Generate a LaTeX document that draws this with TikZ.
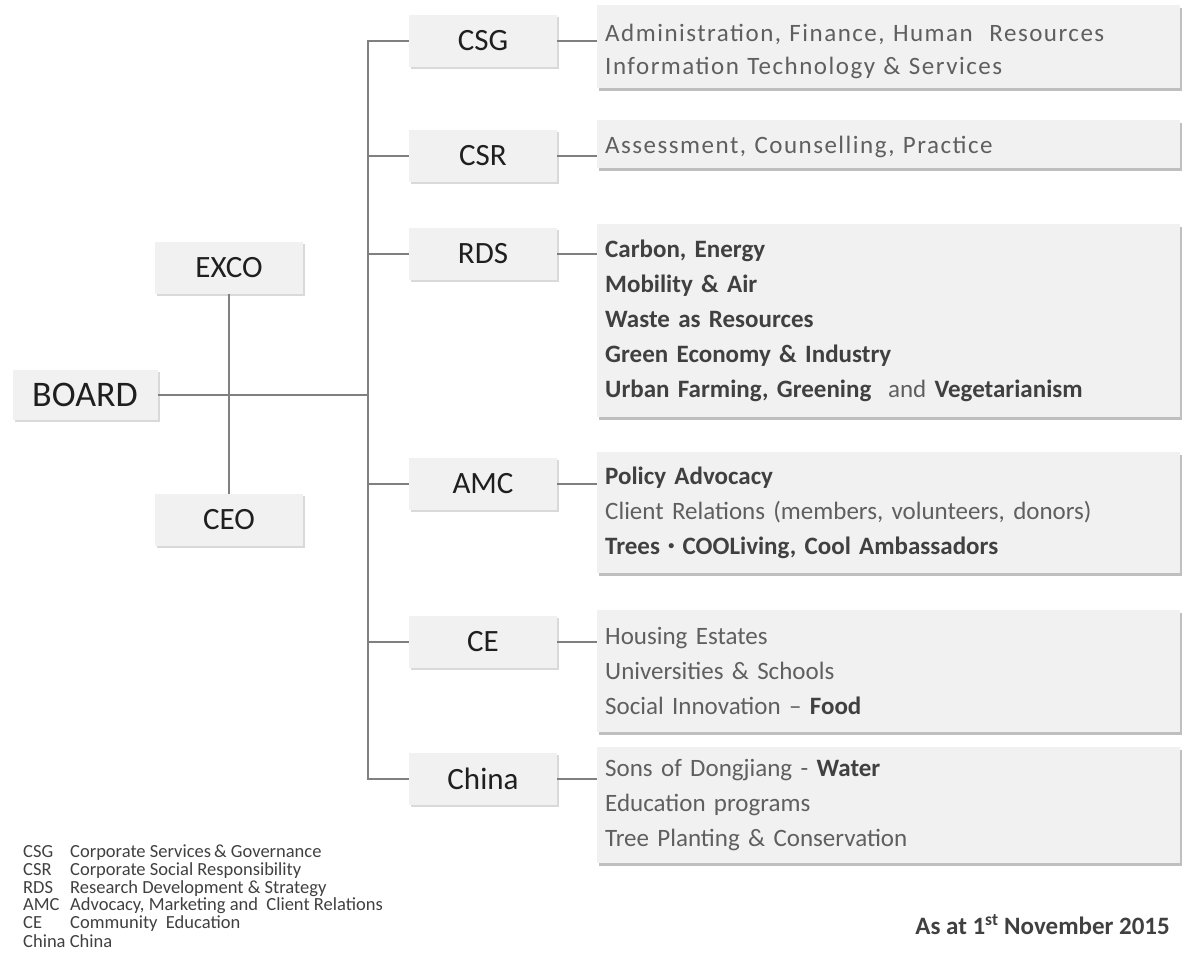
\documentclass[tikz,border=0pt]{standalone}
\usepackage{fontspec}
\setmainfont{Carlito}
\usetikzlibrary{shadows}
\definecolor{boxfill}{RGB}{241,241,241}
\definecolor{linegray}{RGB}{128,128,128}
\definecolor{desctext}{RGB}{95,95,95}
\definecolor{darktext}{RGB}{64,64,64}
\newcommand{\bld}[1]{{\bfseries\color{darktext}#1}}

\begin{document}
\begin{tikzpicture}[x=1pt, y=-1pt,
    unitbox/.style={fill=boxfill, minimum width=148pt, minimum height=52pt, inner sep=0pt,
      text=black!88, font=\fontsize{31}{36}\selectfont,
      drop shadow={shadow xshift=2pt, shadow yshift=-2pt, opacity=0.3}},
    descbox/.style={fill=boxfill, anchor=north west, minimum width=583pt, text width=567pt,
      inner xsep=8pt, inner ysep=0pt, align=left, text=desctext, font=\fontsize{25}{35}\selectfont,
      drop shadow={shadow xshift=1.5pt, shadow yshift=-3pt, opacity=0.5}},
    spaced/.style={font=\fontsize{25}{33}\selectfont\addfontfeature{LetterSpace=6}},
    conn/.style={draw=linegray, line width=2pt},
    legend/.style={anchor=west, inner sep=0pt, text=darktext, font=\fontsize{18.5}{19}\selectfont}]
    \useasboundingbox (0,0) rectangle (1185,957);

    % Board, EXCO, CEO
    \node[unitbox, minimum width=145pt, minimum height=50pt, font=\fontsize{36}{40}\selectfont] (BOARD) at (85,395) {BOARD};
    \node[unitbox] (EXCO) at (229,268) {EXCO};
    \node[unitbox] (CEO) at (229,520) {CEO};

    % Units
    \foreach \n/\y in {CSG/41, CSR/156, RDS/254, AMC/484, CE/642, China/779}
        \node[unitbox] (\n) at (483,\y) {\n};

    % What each unit covers
    \node[descbox, spaced, minimum height=83pt] (dCSG) at (597,5)
        {\rule{0pt}{26pt}Administration, Finance, Human\ \ Resources\\Information Technology \& Services};
    \node[descbox, spaced, minimum height=48pt] (dCSR) at (597,120)
        {\rule{0pt}{22pt}Assessment, Counselling, Practice};
    \node[descbox, minimum height=193pt] (dRDS) at (597,224)
        {\bld{Carbon, Energy}\\\bld{Mobility \& Air}\\\bld{Waste as Resources}\\\bld{Green Economy \& Industry}\\\bld{Urban Farming, Greening}\ \ and \bld{Vegetarianism}};
    \node[descbox, minimum height=121pt] (dAMC) at (597,452)
        {\bld{Policy Advocacy}\\Client Relations (members, volunteers, donors)\\\bld{Trees {\fontsize{12}{12}\selectfont\raisebox{5pt}{\textbullet}} COOLiving, Cool Ambassadors}};
    \node[descbox, minimum height=122pt] (dCE) at (597,610)
        {Housing Estates\\Universities \& Schools\\Social Innovation \textendash{} \bld{Food}};
    \node[descbox, minimum height=116pt] (dChina) at (597,747)
        {Sons of Dongjiang - \bld{Water}\\Education programs\\Tree Planting \& Conservation};

    % Connectors
    \coordinate (trunk) at (368,0);
    \draw[conn] (CSG.west) -- (CSG.west -| trunk) -- (China.west -| trunk) -- (China.west);
    \foreach \n in {CSR, RDS, AMC, CE} \draw[conn] (\n.west) -- (\n.west -| trunk);
    \draw[conn] (BOARD.east) -- (BOARD.east -| trunk);
    \draw[conn] (EXCO) -- (CEO);
    \foreach \n in {CSG, CSR, RDS, AMC, CE, China} \draw[conn] (\n.east) -- (\n.east -| d\n.west);

    % Legend
    \foreach \ab/\full [count=\i] in {CSG/Corporate Services\,\& Governance, CSR/Corporate Social Responsibility,
        RDS/Research Development \& Strategy, AMC/{Advocacy, Marketing and\ \ Client Relations}, CE/Community\ \ Education}
        \node[legend] (leg\i) at (23, 835.4+17.6*\i) {\makebox[47pt][l]{\ab}\full};
    \node[legend] (leg6) at (23,941) {China China};

    \node[anchor=east, inner sep=0pt, text=darktext, font=\fontsize{25}{28}\selectfont\bfseries] (asat) at (1170,925)
        {As at 1\textsuperscript{st} November 2015};
\end{tikzpicture}
\end{document}
